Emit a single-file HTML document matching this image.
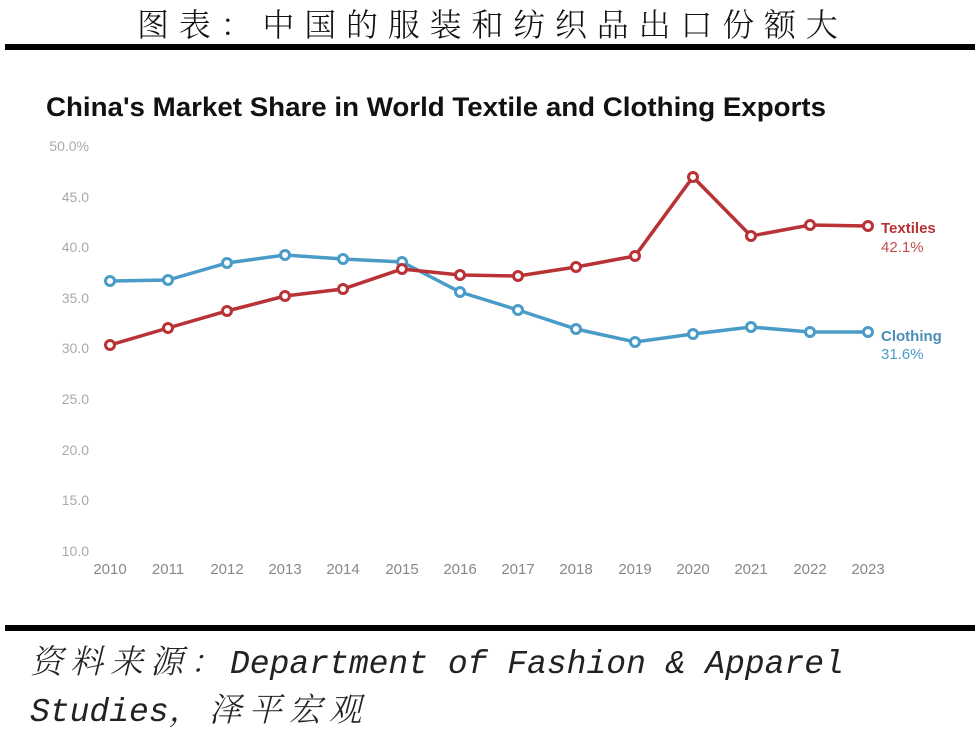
<!DOCTYPE html>
<html><head><meta charset="utf-8"><style>
body{margin:0;width:975px;height:730px;background:#fff;overflow:hidden;position:relative;font-family:"Liberation Sans","Noto Sans CJK SC",sans-serif}
.t{position:absolute;left:137px;top:0px;font-family:"Liberation Mono","Noto Serif CJK SC",monospace;font-size:32px;letter-spacing:9.8px;color:#111;white-space:nowrap;font-weight:300}
.bar{position:absolute;left:5px;width:970px;height:6px;background:#000}
.src{position:absolute;left:30px;font-family:"Liberation Mono","Noto Serif CJK SC",monospace;font-style:italic;font-size:33px;color:#222;white-space:nowrap;font-weight:300}
.c{letter-spacing:7px}
</style></head><body>
<div class="t">图表：中国的服装和纺织品出口份额大</div>
<div class="bar" style="top:44px"></div>
<svg style="position:absolute;left:0;top:0" width="975" height="730">
<text x="46" y="116" font-family="Liberation Sans" font-weight="bold" font-size="27" fill="#111" textLength="780" lengthAdjust="spacingAndGlyphs">China's Market Share in World Textile and Clothing Exports</text>
<g font-family="Liberation Sans" font-size="14" fill="#aaa" text-anchor="end">
<text x="89" y="151">50.0%</text><text x="89" y="202">45.0</text><text x="89" y="252">40.0</text><text x="89" y="303">35.0</text><text x="89" y="353">30.0</text><text x="89" y="404">25.0</text><text x="89" y="455">20.0</text><text x="89" y="505">15.0</text><text x="89" y="556">10.0</text>
</g>
<g font-family="Liberation Sans" font-size="15" fill="#888" text-anchor="middle">
<text x="110" y="574">2010</text><text x="168" y="574">2011</text><text x="227" y="574">2012</text><text x="285" y="574">2013</text><text x="343" y="574">2014</text><text x="402" y="574">2015</text><text x="460" y="574">2016</text><text x="518" y="574">2017</text><text x="576" y="574">2018</text><text x="635" y="574">2019</text><text x="693" y="574">2020</text><text x="751" y="574">2021</text><text x="810" y="574">2022</text><text x="868" y="574">2023</text>
</g>
<polyline fill="none" stroke="#4a9cc8" stroke-width="3.5" points="110,281 168,280 227,263 285,255 343,259 402,262 460,292 518,310 576,329 635,342 693,334 751,327 810,332 868,332"/>
<polyline fill="none" stroke="#b83236" stroke-width="3.5" points="110,345 168,328 227,311 285,296 343,289 402,269 460,275 518,276 576,267 635,256 693,177 751,236 810,225 868,226"/>
<g fill="#fff" stroke="#4a9cc8" stroke-width="3">
<circle cx="110" cy="281" r="4.5"/><circle cx="168" cy="280" r="4.5"/><circle cx="227" cy="263" r="4.5"/><circle cx="285" cy="255" r="4.5"/><circle cx="343" cy="259" r="4.5"/><circle cx="402" cy="262" r="4.5"/><circle cx="460" cy="292" r="4.5"/><circle cx="518" cy="310" r="4.5"/><circle cx="576" cy="329" r="4.5"/><circle cx="635" cy="342" r="4.5"/><circle cx="693" cy="334" r="4.5"/><circle cx="751" cy="327" r="4.5"/><circle cx="810" cy="332" r="4.5"/><circle cx="868" cy="332" r="4.5"/>
</g>
<g fill="#fff" stroke="#b83236" stroke-width="3">
<circle cx="110" cy="345" r="4.5"/><circle cx="168" cy="328" r="4.5"/><circle cx="227" cy="311" r="4.5"/><circle cx="285" cy="296" r="4.5"/><circle cx="343" cy="289" r="4.5"/><circle cx="402" cy="269" r="4.5"/><circle cx="460" cy="275" r="4.5"/><circle cx="518" cy="276" r="4.5"/><circle cx="576" cy="267" r="4.5"/><circle cx="635" cy="256" r="4.5"/><circle cx="693" cy="177" r="4.5"/><circle cx="751" cy="236" r="4.5"/><circle cx="810" cy="225" r="4.5"/><circle cx="868" cy="226" r="4.5"/>
</g>
<g font-family="Liberation Sans" font-size="15">
<text x="881" y="233" fill="#b83236" font-weight="bold">Textiles</text><text x="881" y="252" fill="#c0504f">42.1%</text>
<text x="881" y="341" fill="#4a8fb8" font-weight="bold">Clothing</text><text x="881" y="359" fill="#4a9cc8">31.6%</text>
</g>
</svg>
<div class="bar" style="top:625px"></div>
<div class="src" style="top:636px"><span class="c">资料来源：</span>Department of Fashion &amp; Apparel</div>
<div class="src" style="top:684px">Studies<span class="c">，泽平宏观</span></div>
</body></html>
